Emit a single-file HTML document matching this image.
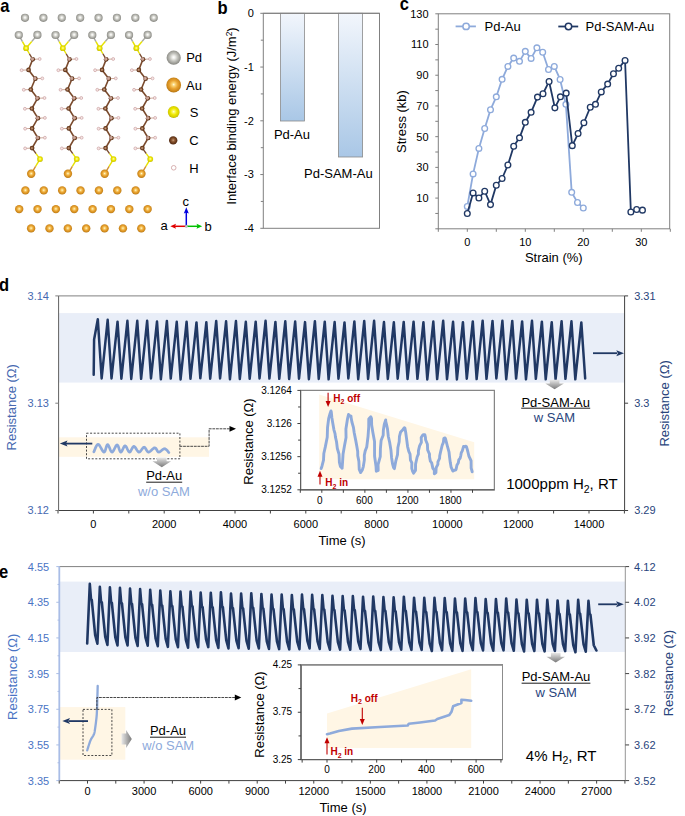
<!DOCTYPE html><html><head><meta charset="utf-8"><style>
html,body{margin:0;padding:0;background:#fff;width:685px;height:816px;overflow:hidden}
svg{display:block;font-family:"Liberation Sans",sans-serif}
</style></head><body>
<svg width="685" height="816" viewBox="0 0 685 816">
<defs>
<radialGradient id="gPd" cx="0.5" cy="0.47" r="0.55"><stop offset="0" stop-color="#ffffff"/><stop offset="0.18" stop-color="#f0f0ec"/><stop offset="0.5" stop-color="#c2c2bc"/><stop offset="0.85" stop-color="#94948e"/><stop offset="1" stop-color="#7a7a75"/></radialGradient>
<radialGradient id="gAu" cx="0.5" cy="0.47" r="0.55"><stop offset="0" stop-color="#fffce8"/><stop offset="0.18" stop-color="#fbd77a"/><stop offset="0.5" stop-color="#eaa432"/><stop offset="0.85" stop-color="#c98418"/><stop offset="1" stop-color="#a86c10"/></radialGradient>
<radialGradient id="gS" cx="0.5" cy="0.47" r="0.55"><stop offset="0" stop-color="#ffffe8"/><stop offset="0.18" stop-color="#fbf870"/><stop offset="0.5" stop-color="#eee800"/><stop offset="0.85" stop-color="#d4cc00"/><stop offset="1" stop-color="#aaa200"/></radialGradient>
<radialGradient id="gC" cx="0.5" cy="0.47" r="0.55"><stop offset="0" stop-color="#d0a888"/><stop offset="0.25" stop-color="#9a6640"/><stop offset="0.6" stop-color="#70401f"/><stop offset="1" stop-color="#4a2410"/></radialGradient>
<linearGradient id="gBar" x1="0" y1="0" x2="0" y2="1"><stop offset="0" stop-color="#f2f6fc"/><stop offset="1" stop-color="#a9c7e6"/></linearGradient>
<linearGradient id="gArD" x1="0" y1="0" x2="0" y2="1"><stop offset="0" stop-color="#e8e8e8"/><stop offset="1" stop-color="#7a7a7a"/></linearGradient>
<linearGradient id="gArR" x1="0" y1="0" x2="1" y2="0"><stop offset="0" stop-color="#e8e8e8"/><stop offset="1" stop-color="#7a7a7a"/></linearGradient>
<marker id="mNavy" viewBox="0 0 10 10" refX="9" refY="5" markerWidth="7" markerHeight="5" markerUnits="userSpaceOnUse" orient="auto"><path d="M0,0 L10,5 L0,10 L2.5,5 z" fill="#203864"/></marker>
<marker id="mBlk" viewBox="0 0 10 10" refX="9" refY="5" markerWidth="6" markerHeight="5" markerUnits="userSpaceOnUse" orient="auto"><path d="M0,0 L10,5 L0,10 z" fill="#000"/></marker>
</defs>

<text transform="translate(0.3,11.7) scale(0.92,1)" font-size="18" font-weight="bold">a</text>
<circle cx="25" cy="17.8" r="4.1" fill="url(#gPd)"/>
<circle cx="43.39" cy="17.8" r="4.1" fill="url(#gPd)"/>
<circle cx="61.78" cy="17.8" r="4.1" fill="url(#gPd)"/>
<circle cx="80.17" cy="17.8" r="4.1" fill="url(#gPd)"/>
<circle cx="98.56" cy="17.8" r="4.1" fill="url(#gPd)"/>
<circle cx="116.95" cy="17.8" r="4.1" fill="url(#gPd)"/>
<circle cx="135.34" cy="17.8" r="4.1" fill="url(#gPd)"/>
<circle cx="153.73" cy="17.8" r="4.1" fill="url(#gPd)"/>
<line x1="18.8" y1="35" x2="22.45" y2="41.6" stroke="#a8a8a2" stroke-width="1.4" />
<line x1="22.45" y1="41.6" x2="26.1" y2="48.2" stroke="#e6e200" stroke-width="1.4" />
<line x1="37.4" y1="34.9" x2="31.75" y2="41.55" stroke="#a8a8a2" stroke-width="1.4" />
<line x1="31.75" y1="41.55" x2="26.1" y2="48.2" stroke="#e6e200" stroke-width="1.4" />
<line x1="26.1" y1="48.2" x2="29.4" y2="53.75" stroke="#e6e200" stroke-width="1.4" />
<line x1="29.4" y1="53.75" x2="32.7" y2="59.3" stroke="#7a4a2c" stroke-width="1.4" />
<line x1="32.7" y1="59.3" x2="28.6" y2="69.9" stroke="#7a4a2c" stroke-width="1.6" />
<line x1="28.6" y1="69.9" x2="35.3" y2="78.7" stroke="#7a4a2c" stroke-width="1.6" />
<line x1="35.3" y1="78.7" x2="30.8" y2="89.5" stroke="#7a4a2c" stroke-width="1.6" />
<line x1="30.8" y1="89.5" x2="37.5" y2="98.3" stroke="#7a4a2c" stroke-width="1.6" />
<line x1="37.5" y1="98.3" x2="31.9" y2="108.5" stroke="#7a4a2c" stroke-width="1.6" />
<line x1="31.9" y1="108.5" x2="37.9" y2="118.2" stroke="#7a4a2c" stroke-width="1.6" />
<line x1="37.9" y1="118.2" x2="32.1" y2="128.4" stroke="#7a4a2c" stroke-width="1.6" />
<line x1="32.1" y1="128.4" x2="37.9" y2="138" stroke="#7a4a2c" stroke-width="1.6" />
<line x1="37.9" y1="138" x2="32.1" y2="148.1" stroke="#7a4a2c" stroke-width="1.6" />
<line x1="32.1" y1="148.1" x2="36.05" y2="153.6" stroke="#7a4a2c" stroke-width="1.4" />
<line x1="36.05" y1="153.6" x2="40" y2="159.1" stroke="#e6e200" stroke-width="1.4" />
<line x1="40" y1="159.1" x2="35.6" y2="166.45" stroke="#e6e200" stroke-width="1.4" />
<line x1="35.6" y1="166.45" x2="31.2" y2="173.8" stroke="#d09030" stroke-width="1.4" />
<line x1="32.7" y1="59.3" x2="39.7" y2="59" stroke="#c8a090" stroke-width="0.9" />
<line x1="28.6" y1="69.9" x2="21.6" y2="70.2" stroke="#c8a090" stroke-width="0.9" />
<line x1="35.3" y1="78.7" x2="42.3" y2="78.4" stroke="#c8a090" stroke-width="0.9" />
<line x1="30.8" y1="89.5" x2="23.8" y2="89.8" stroke="#c8a090" stroke-width="0.9" />
<line x1="37.5" y1="98.3" x2="44.5" y2="98" stroke="#c8a090" stroke-width="0.9" />
<line x1="31.9" y1="108.5" x2="24.9" y2="108.8" stroke="#c8a090" stroke-width="0.9" />
<line x1="37.9" y1="118.2" x2="44.9" y2="117.9" stroke="#c8a090" stroke-width="0.9" />
<line x1="32.1" y1="128.4" x2="25.1" y2="128.7" stroke="#c8a090" stroke-width="0.9" />
<line x1="37.9" y1="138" x2="44.9" y2="137.7" stroke="#c8a090" stroke-width="0.9" />
<line x1="32.1" y1="148.1" x2="25.1" y2="148.4" stroke="#c8a090" stroke-width="0.9" />
<circle cx="18.8" cy="35" r="4.1" fill="url(#gPd)"/>
<circle cx="37.4" cy="34.9" r="4.1" fill="url(#gPd)"/>
<circle cx="26.1" cy="48.2" r="2.9" fill="url(#gS)"/>
<circle cx="40" cy="159.1" r="2.9" fill="url(#gS)"/>
<circle cx="31.2" cy="173.8" r="4.2" fill="url(#gAu)"/>
<circle cx="32.7" cy="59.3" r="2.35" fill="url(#gC)"/>
<circle cx="39.7" cy="59" r="1.45" fill="#f6e6e6" stroke="#c89c9c" stroke-width="0.65"/>
<circle cx="32.2" cy="59" r="1.4" fill="#e8cccc" fill-opacity="0.55" stroke="#d8b4b4" stroke-width="0.5"/>
<circle cx="28.6" cy="69.9" r="2.35" fill="url(#gC)"/>
<circle cx="21.6" cy="70.2" r="1.45" fill="#f6e6e6" stroke="#c89c9c" stroke-width="0.65"/>
<circle cx="28.2" cy="70.1" r="1.1" fill="#e8cccc" fill-opacity="0.3"/>
<circle cx="35.3" cy="78.7" r="2.35" fill="url(#gC)"/>
<circle cx="42.3" cy="78.4" r="1.45" fill="#f6e6e6" stroke="#c89c9c" stroke-width="0.65"/>
<circle cx="34.8" cy="78.4" r="1.4" fill="#e8cccc" fill-opacity="0.55" stroke="#d8b4b4" stroke-width="0.5"/>
<circle cx="30.8" cy="89.5" r="2.35" fill="url(#gC)"/>
<circle cx="23.8" cy="89.8" r="1.45" fill="#f6e6e6" stroke="#c89c9c" stroke-width="0.65"/>
<circle cx="30.4" cy="89.7" r="1.1" fill="#e8cccc" fill-opacity="0.3"/>
<circle cx="37.5" cy="98.3" r="2.35" fill="url(#gC)"/>
<circle cx="44.5" cy="98" r="1.45" fill="#f6e6e6" stroke="#c89c9c" stroke-width="0.65"/>
<circle cx="37" cy="98" r="1.4" fill="#e8cccc" fill-opacity="0.55" stroke="#d8b4b4" stroke-width="0.5"/>
<circle cx="31.9" cy="108.5" r="2.35" fill="url(#gC)"/>
<circle cx="24.9" cy="108.8" r="1.45" fill="#f6e6e6" stroke="#c89c9c" stroke-width="0.65"/>
<circle cx="31.5" cy="108.7" r="1.1" fill="#e8cccc" fill-opacity="0.3"/>
<circle cx="37.9" cy="118.2" r="2.35" fill="url(#gC)"/>
<circle cx="44.9" cy="117.9" r="1.45" fill="#f6e6e6" stroke="#c89c9c" stroke-width="0.65"/>
<circle cx="37.4" cy="117.9" r="1.4" fill="#e8cccc" fill-opacity="0.55" stroke="#d8b4b4" stroke-width="0.5"/>
<circle cx="32.1" cy="128.4" r="2.35" fill="url(#gC)"/>
<circle cx="25.1" cy="128.7" r="1.45" fill="#f6e6e6" stroke="#c89c9c" stroke-width="0.65"/>
<circle cx="31.7" cy="128.6" r="1.1" fill="#e8cccc" fill-opacity="0.3"/>
<circle cx="37.9" cy="138" r="2.35" fill="url(#gC)"/>
<circle cx="44.9" cy="137.7" r="1.45" fill="#f6e6e6" stroke="#c89c9c" stroke-width="0.65"/>
<circle cx="37.4" cy="137.7" r="1.4" fill="#e8cccc" fill-opacity="0.55" stroke="#d8b4b4" stroke-width="0.5"/>
<circle cx="32.1" cy="148.1" r="2.35" fill="url(#gC)"/>
<circle cx="25.1" cy="148.4" r="1.45" fill="#f6e6e6" stroke="#c89c9c" stroke-width="0.65"/>
<circle cx="31.7" cy="148.3" r="1.1" fill="#e8cccc" fill-opacity="0.3"/>
<line x1="55.55" y1="35" x2="59.2" y2="41.6" stroke="#a8a8a2" stroke-width="1.4" />
<line x1="59.2" y1="41.6" x2="62.85" y2="48.2" stroke="#e6e200" stroke-width="1.4" />
<line x1="74.15" y1="34.9" x2="68.5" y2="41.55" stroke="#a8a8a2" stroke-width="1.4" />
<line x1="68.5" y1="41.55" x2="62.85" y2="48.2" stroke="#e6e200" stroke-width="1.4" />
<line x1="62.85" y1="48.2" x2="66.15" y2="53.75" stroke="#e6e200" stroke-width="1.4" />
<line x1="66.15" y1="53.75" x2="69.45" y2="59.3" stroke="#7a4a2c" stroke-width="1.4" />
<line x1="69.45" y1="59.3" x2="65.35" y2="69.9" stroke="#7a4a2c" stroke-width="1.6" />
<line x1="65.35" y1="69.9" x2="72.05" y2="78.7" stroke="#7a4a2c" stroke-width="1.6" />
<line x1="72.05" y1="78.7" x2="67.55" y2="89.5" stroke="#7a4a2c" stroke-width="1.6" />
<line x1="67.55" y1="89.5" x2="74.25" y2="98.3" stroke="#7a4a2c" stroke-width="1.6" />
<line x1="74.25" y1="98.3" x2="68.65" y2="108.5" stroke="#7a4a2c" stroke-width="1.6" />
<line x1="68.65" y1="108.5" x2="74.65" y2="118.2" stroke="#7a4a2c" stroke-width="1.6" />
<line x1="74.65" y1="118.2" x2="68.85" y2="128.4" stroke="#7a4a2c" stroke-width="1.6" />
<line x1="68.85" y1="128.4" x2="74.65" y2="138" stroke="#7a4a2c" stroke-width="1.6" />
<line x1="74.65" y1="138" x2="68.85" y2="148.1" stroke="#7a4a2c" stroke-width="1.6" />
<line x1="68.85" y1="148.1" x2="72.8" y2="153.6" stroke="#7a4a2c" stroke-width="1.4" />
<line x1="72.8" y1="153.6" x2="76.75" y2="159.1" stroke="#e6e200" stroke-width="1.4" />
<line x1="76.75" y1="159.1" x2="72.35" y2="166.45" stroke="#e6e200" stroke-width="1.4" />
<line x1="72.35" y1="166.45" x2="67.95" y2="173.8" stroke="#d09030" stroke-width="1.4" />
<line x1="69.45" y1="59.3" x2="76.45" y2="59" stroke="#c8a090" stroke-width="0.9" />
<line x1="65.35" y1="69.9" x2="58.35" y2="70.2" stroke="#c8a090" stroke-width="0.9" />
<line x1="72.05" y1="78.7" x2="79.05" y2="78.4" stroke="#c8a090" stroke-width="0.9" />
<line x1="67.55" y1="89.5" x2="60.55" y2="89.8" stroke="#c8a090" stroke-width="0.9" />
<line x1="74.25" y1="98.3" x2="81.25" y2="98" stroke="#c8a090" stroke-width="0.9" />
<line x1="68.65" y1="108.5" x2="61.65" y2="108.8" stroke="#c8a090" stroke-width="0.9" />
<line x1="74.65" y1="118.2" x2="81.65" y2="117.9" stroke="#c8a090" stroke-width="0.9" />
<line x1="68.85" y1="128.4" x2="61.85" y2="128.7" stroke="#c8a090" stroke-width="0.9" />
<line x1="74.65" y1="138" x2="81.65" y2="137.7" stroke="#c8a090" stroke-width="0.9" />
<line x1="68.85" y1="148.1" x2="61.85" y2="148.4" stroke="#c8a090" stroke-width="0.9" />
<circle cx="55.55" cy="35" r="4.1" fill="url(#gPd)"/>
<circle cx="74.15" cy="34.9" r="4.1" fill="url(#gPd)"/>
<circle cx="62.85" cy="48.2" r="2.9" fill="url(#gS)"/>
<circle cx="76.75" cy="159.1" r="2.9" fill="url(#gS)"/>
<circle cx="67.95" cy="173.8" r="4.2" fill="url(#gAu)"/>
<circle cx="69.45" cy="59.3" r="2.35" fill="url(#gC)"/>
<circle cx="76.45" cy="59" r="1.45" fill="#f6e6e6" stroke="#c89c9c" stroke-width="0.65"/>
<circle cx="68.95" cy="59" r="1.4" fill="#e8cccc" fill-opacity="0.55" stroke="#d8b4b4" stroke-width="0.5"/>
<circle cx="65.35" cy="69.9" r="2.35" fill="url(#gC)"/>
<circle cx="58.35" cy="70.2" r="1.45" fill="#f6e6e6" stroke="#c89c9c" stroke-width="0.65"/>
<circle cx="64.95" cy="70.1" r="1.1" fill="#e8cccc" fill-opacity="0.3"/>
<circle cx="72.05" cy="78.7" r="2.35" fill="url(#gC)"/>
<circle cx="79.05" cy="78.4" r="1.45" fill="#f6e6e6" stroke="#c89c9c" stroke-width="0.65"/>
<circle cx="71.55" cy="78.4" r="1.4" fill="#e8cccc" fill-opacity="0.55" stroke="#d8b4b4" stroke-width="0.5"/>
<circle cx="67.55" cy="89.5" r="2.35" fill="url(#gC)"/>
<circle cx="60.55" cy="89.8" r="1.45" fill="#f6e6e6" stroke="#c89c9c" stroke-width="0.65"/>
<circle cx="67.15" cy="89.7" r="1.1" fill="#e8cccc" fill-opacity="0.3"/>
<circle cx="74.25" cy="98.3" r="2.35" fill="url(#gC)"/>
<circle cx="81.25" cy="98" r="1.45" fill="#f6e6e6" stroke="#c89c9c" stroke-width="0.65"/>
<circle cx="73.75" cy="98" r="1.4" fill="#e8cccc" fill-opacity="0.55" stroke="#d8b4b4" stroke-width="0.5"/>
<circle cx="68.65" cy="108.5" r="2.35" fill="url(#gC)"/>
<circle cx="61.65" cy="108.8" r="1.45" fill="#f6e6e6" stroke="#c89c9c" stroke-width="0.65"/>
<circle cx="68.25" cy="108.7" r="1.1" fill="#e8cccc" fill-opacity="0.3"/>
<circle cx="74.65" cy="118.2" r="2.35" fill="url(#gC)"/>
<circle cx="81.65" cy="117.9" r="1.45" fill="#f6e6e6" stroke="#c89c9c" stroke-width="0.65"/>
<circle cx="74.15" cy="117.9" r="1.4" fill="#e8cccc" fill-opacity="0.55" stroke="#d8b4b4" stroke-width="0.5"/>
<circle cx="68.85" cy="128.4" r="2.35" fill="url(#gC)"/>
<circle cx="61.85" cy="128.7" r="1.45" fill="#f6e6e6" stroke="#c89c9c" stroke-width="0.65"/>
<circle cx="68.45" cy="128.6" r="1.1" fill="#e8cccc" fill-opacity="0.3"/>
<circle cx="74.65" cy="138" r="2.35" fill="url(#gC)"/>
<circle cx="81.65" cy="137.7" r="1.45" fill="#f6e6e6" stroke="#c89c9c" stroke-width="0.65"/>
<circle cx="74.15" cy="137.7" r="1.4" fill="#e8cccc" fill-opacity="0.55" stroke="#d8b4b4" stroke-width="0.5"/>
<circle cx="68.85" cy="148.1" r="2.35" fill="url(#gC)"/>
<circle cx="61.85" cy="148.4" r="1.45" fill="#f6e6e6" stroke="#c89c9c" stroke-width="0.65"/>
<circle cx="68.45" cy="148.3" r="1.1" fill="#e8cccc" fill-opacity="0.3"/>
<line x1="92.3" y1="35" x2="95.95" y2="41.6" stroke="#a8a8a2" stroke-width="1.4" />
<line x1="95.95" y1="41.6" x2="99.6" y2="48.2" stroke="#e6e200" stroke-width="1.4" />
<line x1="110.9" y1="34.9" x2="105.25" y2="41.55" stroke="#a8a8a2" stroke-width="1.4" />
<line x1="105.25" y1="41.55" x2="99.6" y2="48.2" stroke="#e6e200" stroke-width="1.4" />
<line x1="99.6" y1="48.2" x2="102.9" y2="53.75" stroke="#e6e200" stroke-width="1.4" />
<line x1="102.9" y1="53.75" x2="106.2" y2="59.3" stroke="#7a4a2c" stroke-width="1.4" />
<line x1="106.2" y1="59.3" x2="102.1" y2="69.9" stroke="#7a4a2c" stroke-width="1.6" />
<line x1="102.1" y1="69.9" x2="108.8" y2="78.7" stroke="#7a4a2c" stroke-width="1.6" />
<line x1="108.8" y1="78.7" x2="104.3" y2="89.5" stroke="#7a4a2c" stroke-width="1.6" />
<line x1="104.3" y1="89.5" x2="111" y2="98.3" stroke="#7a4a2c" stroke-width="1.6" />
<line x1="111" y1="98.3" x2="105.4" y2="108.5" stroke="#7a4a2c" stroke-width="1.6" />
<line x1="105.4" y1="108.5" x2="111.4" y2="118.2" stroke="#7a4a2c" stroke-width="1.6" />
<line x1="111.4" y1="118.2" x2="105.6" y2="128.4" stroke="#7a4a2c" stroke-width="1.6" />
<line x1="105.6" y1="128.4" x2="111.4" y2="138" stroke="#7a4a2c" stroke-width="1.6" />
<line x1="111.4" y1="138" x2="105.6" y2="148.1" stroke="#7a4a2c" stroke-width="1.6" />
<line x1="105.6" y1="148.1" x2="109.55" y2="153.6" stroke="#7a4a2c" stroke-width="1.4" />
<line x1="109.55" y1="153.6" x2="113.5" y2="159.1" stroke="#e6e200" stroke-width="1.4" />
<line x1="113.5" y1="159.1" x2="109.1" y2="166.45" stroke="#e6e200" stroke-width="1.4" />
<line x1="109.1" y1="166.45" x2="104.7" y2="173.8" stroke="#d09030" stroke-width="1.4" />
<line x1="106.2" y1="59.3" x2="113.2" y2="59" stroke="#c8a090" stroke-width="0.9" />
<line x1="102.1" y1="69.9" x2="95.1" y2="70.2" stroke="#c8a090" stroke-width="0.9" />
<line x1="108.8" y1="78.7" x2="115.8" y2="78.4" stroke="#c8a090" stroke-width="0.9" />
<line x1="104.3" y1="89.5" x2="97.3" y2="89.8" stroke="#c8a090" stroke-width="0.9" />
<line x1="111" y1="98.3" x2="118" y2="98" stroke="#c8a090" stroke-width="0.9" />
<line x1="105.4" y1="108.5" x2="98.4" y2="108.8" stroke="#c8a090" stroke-width="0.9" />
<line x1="111.4" y1="118.2" x2="118.4" y2="117.9" stroke="#c8a090" stroke-width="0.9" />
<line x1="105.6" y1="128.4" x2="98.6" y2="128.7" stroke="#c8a090" stroke-width="0.9" />
<line x1="111.4" y1="138" x2="118.4" y2="137.7" stroke="#c8a090" stroke-width="0.9" />
<line x1="105.6" y1="148.1" x2="98.6" y2="148.4" stroke="#c8a090" stroke-width="0.9" />
<circle cx="92.3" cy="35" r="4.1" fill="url(#gPd)"/>
<circle cx="110.9" cy="34.9" r="4.1" fill="url(#gPd)"/>
<circle cx="99.6" cy="48.2" r="2.9" fill="url(#gS)"/>
<circle cx="113.5" cy="159.1" r="2.9" fill="url(#gS)"/>
<circle cx="104.7" cy="173.8" r="4.2" fill="url(#gAu)"/>
<circle cx="106.2" cy="59.3" r="2.35" fill="url(#gC)"/>
<circle cx="113.2" cy="59" r="1.45" fill="#f6e6e6" stroke="#c89c9c" stroke-width="0.65"/>
<circle cx="105.7" cy="59" r="1.4" fill="#e8cccc" fill-opacity="0.55" stroke="#d8b4b4" stroke-width="0.5"/>
<circle cx="102.1" cy="69.9" r="2.35" fill="url(#gC)"/>
<circle cx="95.1" cy="70.2" r="1.45" fill="#f6e6e6" stroke="#c89c9c" stroke-width="0.65"/>
<circle cx="101.7" cy="70.1" r="1.1" fill="#e8cccc" fill-opacity="0.3"/>
<circle cx="108.8" cy="78.7" r="2.35" fill="url(#gC)"/>
<circle cx="115.8" cy="78.4" r="1.45" fill="#f6e6e6" stroke="#c89c9c" stroke-width="0.65"/>
<circle cx="108.3" cy="78.4" r="1.4" fill="#e8cccc" fill-opacity="0.55" stroke="#d8b4b4" stroke-width="0.5"/>
<circle cx="104.3" cy="89.5" r="2.35" fill="url(#gC)"/>
<circle cx="97.3" cy="89.8" r="1.45" fill="#f6e6e6" stroke="#c89c9c" stroke-width="0.65"/>
<circle cx="103.9" cy="89.7" r="1.1" fill="#e8cccc" fill-opacity="0.3"/>
<circle cx="111" cy="98.3" r="2.35" fill="url(#gC)"/>
<circle cx="118" cy="98" r="1.45" fill="#f6e6e6" stroke="#c89c9c" stroke-width="0.65"/>
<circle cx="110.5" cy="98" r="1.4" fill="#e8cccc" fill-opacity="0.55" stroke="#d8b4b4" stroke-width="0.5"/>
<circle cx="105.4" cy="108.5" r="2.35" fill="url(#gC)"/>
<circle cx="98.4" cy="108.8" r="1.45" fill="#f6e6e6" stroke="#c89c9c" stroke-width="0.65"/>
<circle cx="105" cy="108.7" r="1.1" fill="#e8cccc" fill-opacity="0.3"/>
<circle cx="111.4" cy="118.2" r="2.35" fill="url(#gC)"/>
<circle cx="118.4" cy="117.9" r="1.45" fill="#f6e6e6" stroke="#c89c9c" stroke-width="0.65"/>
<circle cx="110.9" cy="117.9" r="1.4" fill="#e8cccc" fill-opacity="0.55" stroke="#d8b4b4" stroke-width="0.5"/>
<circle cx="105.6" cy="128.4" r="2.35" fill="url(#gC)"/>
<circle cx="98.6" cy="128.7" r="1.45" fill="#f6e6e6" stroke="#c89c9c" stroke-width="0.65"/>
<circle cx="105.2" cy="128.6" r="1.1" fill="#e8cccc" fill-opacity="0.3"/>
<circle cx="111.4" cy="138" r="2.35" fill="url(#gC)"/>
<circle cx="118.4" cy="137.7" r="1.45" fill="#f6e6e6" stroke="#c89c9c" stroke-width="0.65"/>
<circle cx="110.9" cy="137.7" r="1.4" fill="#e8cccc" fill-opacity="0.55" stroke="#d8b4b4" stroke-width="0.5"/>
<circle cx="105.6" cy="148.1" r="2.35" fill="url(#gC)"/>
<circle cx="98.6" cy="148.4" r="1.45" fill="#f6e6e6" stroke="#c89c9c" stroke-width="0.65"/>
<circle cx="105.2" cy="148.3" r="1.1" fill="#e8cccc" fill-opacity="0.3"/>
<line x1="129.05" y1="35" x2="132.7" y2="41.6" stroke="#a8a8a2" stroke-width="1.4" />
<line x1="132.7" y1="41.6" x2="136.35" y2="48.2" stroke="#e6e200" stroke-width="1.4" />
<line x1="147.65" y1="34.9" x2="142" y2="41.55" stroke="#a8a8a2" stroke-width="1.4" />
<line x1="142" y1="41.55" x2="136.35" y2="48.2" stroke="#e6e200" stroke-width="1.4" />
<line x1="136.35" y1="48.2" x2="139.65" y2="53.75" stroke="#e6e200" stroke-width="1.4" />
<line x1="139.65" y1="53.75" x2="142.95" y2="59.3" stroke="#7a4a2c" stroke-width="1.4" />
<line x1="142.95" y1="59.3" x2="138.85" y2="69.9" stroke="#7a4a2c" stroke-width="1.6" />
<line x1="138.85" y1="69.9" x2="145.55" y2="78.7" stroke="#7a4a2c" stroke-width="1.6" />
<line x1="145.55" y1="78.7" x2="141.05" y2="89.5" stroke="#7a4a2c" stroke-width="1.6" />
<line x1="141.05" y1="89.5" x2="147.75" y2="98.3" stroke="#7a4a2c" stroke-width="1.6" />
<line x1="147.75" y1="98.3" x2="142.15" y2="108.5" stroke="#7a4a2c" stroke-width="1.6" />
<line x1="142.15" y1="108.5" x2="148.15" y2="118.2" stroke="#7a4a2c" stroke-width="1.6" />
<line x1="148.15" y1="118.2" x2="142.35" y2="128.4" stroke="#7a4a2c" stroke-width="1.6" />
<line x1="142.35" y1="128.4" x2="148.15" y2="138" stroke="#7a4a2c" stroke-width="1.6" />
<line x1="148.15" y1="138" x2="142.35" y2="148.1" stroke="#7a4a2c" stroke-width="1.6" />
<line x1="142.35" y1="148.1" x2="146.3" y2="153.6" stroke="#7a4a2c" stroke-width="1.4" />
<line x1="146.3" y1="153.6" x2="150.25" y2="159.1" stroke="#e6e200" stroke-width="1.4" />
<line x1="150.25" y1="159.1" x2="145.85" y2="166.45" stroke="#e6e200" stroke-width="1.4" />
<line x1="145.85" y1="166.45" x2="141.45" y2="173.8" stroke="#d09030" stroke-width="1.4" />
<line x1="142.95" y1="59.3" x2="149.95" y2="59" stroke="#c8a090" stroke-width="0.9" />
<line x1="138.85" y1="69.9" x2="131.85" y2="70.2" stroke="#c8a090" stroke-width="0.9" />
<line x1="145.55" y1="78.7" x2="152.55" y2="78.4" stroke="#c8a090" stroke-width="0.9" />
<line x1="141.05" y1="89.5" x2="134.05" y2="89.8" stroke="#c8a090" stroke-width="0.9" />
<line x1="147.75" y1="98.3" x2="154.75" y2="98" stroke="#c8a090" stroke-width="0.9" />
<line x1="142.15" y1="108.5" x2="135.15" y2="108.8" stroke="#c8a090" stroke-width="0.9" />
<line x1="148.15" y1="118.2" x2="155.15" y2="117.9" stroke="#c8a090" stroke-width="0.9" />
<line x1="142.35" y1="128.4" x2="135.35" y2="128.7" stroke="#c8a090" stroke-width="0.9" />
<line x1="148.15" y1="138" x2="155.15" y2="137.7" stroke="#c8a090" stroke-width="0.9" />
<line x1="142.35" y1="148.1" x2="135.35" y2="148.4" stroke="#c8a090" stroke-width="0.9" />
<circle cx="129.05" cy="35" r="4.1" fill="url(#gPd)"/>
<circle cx="147.65" cy="34.9" r="4.1" fill="url(#gPd)"/>
<circle cx="136.35" cy="48.2" r="2.9" fill="url(#gS)"/>
<circle cx="150.25" cy="159.1" r="2.9" fill="url(#gS)"/>
<circle cx="141.45" cy="173.8" r="4.2" fill="url(#gAu)"/>
<circle cx="142.95" cy="59.3" r="2.35" fill="url(#gC)"/>
<circle cx="149.95" cy="59" r="1.45" fill="#f6e6e6" stroke="#c89c9c" stroke-width="0.65"/>
<circle cx="142.45" cy="59" r="1.4" fill="#e8cccc" fill-opacity="0.55" stroke="#d8b4b4" stroke-width="0.5"/>
<circle cx="138.85" cy="69.9" r="2.35" fill="url(#gC)"/>
<circle cx="131.85" cy="70.2" r="1.45" fill="#f6e6e6" stroke="#c89c9c" stroke-width="0.65"/>
<circle cx="138.45" cy="70.1" r="1.1" fill="#e8cccc" fill-opacity="0.3"/>
<circle cx="145.55" cy="78.7" r="2.35" fill="url(#gC)"/>
<circle cx="152.55" cy="78.4" r="1.45" fill="#f6e6e6" stroke="#c89c9c" stroke-width="0.65"/>
<circle cx="145.05" cy="78.4" r="1.4" fill="#e8cccc" fill-opacity="0.55" stroke="#d8b4b4" stroke-width="0.5"/>
<circle cx="141.05" cy="89.5" r="2.35" fill="url(#gC)"/>
<circle cx="134.05" cy="89.8" r="1.45" fill="#f6e6e6" stroke="#c89c9c" stroke-width="0.65"/>
<circle cx="140.65" cy="89.7" r="1.1" fill="#e8cccc" fill-opacity="0.3"/>
<circle cx="147.75" cy="98.3" r="2.35" fill="url(#gC)"/>
<circle cx="154.75" cy="98" r="1.45" fill="#f6e6e6" stroke="#c89c9c" stroke-width="0.65"/>
<circle cx="147.25" cy="98" r="1.4" fill="#e8cccc" fill-opacity="0.55" stroke="#d8b4b4" stroke-width="0.5"/>
<circle cx="142.15" cy="108.5" r="2.35" fill="url(#gC)"/>
<circle cx="135.15" cy="108.8" r="1.45" fill="#f6e6e6" stroke="#c89c9c" stroke-width="0.65"/>
<circle cx="141.75" cy="108.7" r="1.1" fill="#e8cccc" fill-opacity="0.3"/>
<circle cx="148.15" cy="118.2" r="2.35" fill="url(#gC)"/>
<circle cx="155.15" cy="117.9" r="1.45" fill="#f6e6e6" stroke="#c89c9c" stroke-width="0.65"/>
<circle cx="147.65" cy="117.9" r="1.4" fill="#e8cccc" fill-opacity="0.55" stroke="#d8b4b4" stroke-width="0.5"/>
<circle cx="142.35" cy="128.4" r="2.35" fill="url(#gC)"/>
<circle cx="135.35" cy="128.7" r="1.45" fill="#f6e6e6" stroke="#c89c9c" stroke-width="0.65"/>
<circle cx="141.95" cy="128.6" r="1.1" fill="#e8cccc" fill-opacity="0.3"/>
<circle cx="148.15" cy="138" r="2.35" fill="url(#gC)"/>
<circle cx="155.15" cy="137.7" r="1.45" fill="#f6e6e6" stroke="#c89c9c" stroke-width="0.65"/>
<circle cx="147.65" cy="137.7" r="1.4" fill="#e8cccc" fill-opacity="0.55" stroke="#d8b4b4" stroke-width="0.5"/>
<circle cx="142.35" cy="148.1" r="2.35" fill="url(#gC)"/>
<circle cx="135.35" cy="148.4" r="1.45" fill="#f6e6e6" stroke="#c89c9c" stroke-width="0.65"/>
<circle cx="141.95" cy="148.3" r="1.1" fill="#e8cccc" fill-opacity="0.3"/>
<circle cx="25.4" cy="190.4" r="4.2" fill="url(#gAu)"/>
<circle cx="43.78" cy="190.4" r="4.2" fill="url(#gAu)"/>
<circle cx="62.16" cy="190.4" r="4.2" fill="url(#gAu)"/>
<circle cx="80.54" cy="190.4" r="4.2" fill="url(#gAu)"/>
<circle cx="98.92" cy="190.4" r="4.2" fill="url(#gAu)"/>
<circle cx="117.3" cy="190.4" r="4.2" fill="url(#gAu)"/>
<circle cx="135.68" cy="190.4" r="4.2" fill="url(#gAu)"/>
<circle cx="19.2" cy="209.1" r="4.2" fill="url(#gAu)"/>
<circle cx="37.55" cy="209.1" r="4.2" fill="url(#gAu)"/>
<circle cx="55.9" cy="209.1" r="4.2" fill="url(#gAu)"/>
<circle cx="74.25" cy="209.1" r="4.2" fill="url(#gAu)"/>
<circle cx="92.6" cy="209.1" r="4.2" fill="url(#gAu)"/>
<circle cx="110.95" cy="209.1" r="4.2" fill="url(#gAu)"/>
<circle cx="129.3" cy="209.1" r="4.2" fill="url(#gAu)"/>
<circle cx="147.65" cy="209.1" r="4.2" fill="url(#gAu)"/>
<circle cx="31.1" cy="228.4" r="4.2" fill="url(#gAu)"/>
<circle cx="49.47" cy="228.4" r="4.2" fill="url(#gAu)"/>
<circle cx="67.84" cy="228.4" r="4.2" fill="url(#gAu)"/>
<circle cx="86.21" cy="228.4" r="4.2" fill="url(#gAu)"/>
<circle cx="104.58" cy="228.4" r="4.2" fill="url(#gAu)"/>
<circle cx="122.95" cy="228.4" r="4.2" fill="url(#gAu)"/>
<circle cx="141.32" cy="228.4" r="4.2" fill="url(#gAu)"/>
<circle cx="173.7" cy="57.7" r="7.1" fill="url(#gPd)"/>
<circle cx="173.7" cy="85" r="7.4" fill="url(#gAu)"/>
<circle cx="173.7" cy="112" r="5.9" fill="url(#gS)"/>
<circle cx="173.2" cy="140.4" r="4.2" fill="url(#gC)"/>
<circle cx="173.7" cy="167.8" r="2.3" fill="#fff" stroke="#d4a8a8" stroke-width="0.9"/>
<text x="186.2" y="62.4" font-size="13" text-anchor="start" fill="#000" font-weight="normal" >Pd</text>
<text x="186" y="89.7" font-size="13" text-anchor="start" fill="#000" font-weight="normal" >Au</text>
<text x="194" y="116.7" font-size="13" text-anchor="middle" fill="#000" font-weight="normal" >S</text>
<text x="194" y="145.1" font-size="13" text-anchor="middle" fill="#000" font-weight="normal" >C</text>
<text x="194" y="172.5" font-size="13" text-anchor="middle" fill="#000" font-weight="normal" >H</text>
<line x1="186.3" y1="226.3" x2="174" y2="226.3" stroke="#e00000" stroke-width="1.5" />
<path d="M170.3,226.3 L176,223.8 L175,226.3 L176,228.8 z" fill="#e00000"/>
<line x1="186.3" y1="226.3" x2="198" y2="226.3" stroke="#00c000" stroke-width="1.5" />
<path d="M202.2,226.3 L196.5,223.8 L197.5,226.3 L196.5,228.8 z" fill="#00c000"/>
<line x1="186.3" y1="226.3" x2="186.3" y2="211" stroke="#0000e0" stroke-width="1.5" />
<path d="M186.3,207.3 L183.8,213.5 L186.3,212.5 L188.8,213.5 z" fill="#0000e0"/>
<circle cx="186.3" cy="226.3" r="1.2" fill="#c8c8c8" stroke="#999" stroke-width="0.4"/>
<text x="160.5" y="230.4" font-size="13" text-anchor="start" fill="#000" font-weight="normal" >a</text>
<text x="204.4" y="230.6" font-size="13" text-anchor="start" fill="#000" font-weight="normal" >b</text>
<text x="182.6" y="205.8" font-size="13" text-anchor="start" fill="#000" font-weight="normal" >c</text>
<text transform="translate(217.5,14) scale(0.92,1)" font-size="18" font-weight="bold">b</text>
<rect x="263.3" y="13.3" width="116.2" height="215" fill="none" stroke="#808080" stroke-width="1"/>
<line x1="260.3" y1="13.3" x2="263.3" y2="13.3" stroke="#808080" stroke-width="1" />
<text x="253.8" y="17.2" font-size="11" text-anchor="end" fill="#000" font-weight="normal" >0</text>
<line x1="260.8" y1="40.17" x2="263.3" y2="40.17" stroke="#808080" stroke-width="1" />
<line x1="260.3" y1="67.05" x2="263.3" y2="67.05" stroke="#808080" stroke-width="1" />
<text x="253.8" y="70.95" font-size="11" text-anchor="end" fill="#000" font-weight="normal" >-1</text>
<line x1="260.8" y1="93.92" x2="263.3" y2="93.92" stroke="#808080" stroke-width="1" />
<line x1="260.3" y1="120.8" x2="263.3" y2="120.8" stroke="#808080" stroke-width="1" />
<text x="253.8" y="124.7" font-size="11" text-anchor="end" fill="#000" font-weight="normal" >-2</text>
<line x1="260.8" y1="147.68" x2="263.3" y2="147.68" stroke="#808080" stroke-width="1" />
<line x1="260.3" y1="174.55" x2="263.3" y2="174.55" stroke="#808080" stroke-width="1" />
<text x="253.8" y="178.45" font-size="11" text-anchor="end" fill="#000" font-weight="normal" >-3</text>
<line x1="260.8" y1="201.43" x2="263.3" y2="201.43" stroke="#808080" stroke-width="1" />
<line x1="260.3" y1="228.3" x2="263.3" y2="228.3" stroke="#808080" stroke-width="1" />
<text x="253.8" y="232.2" font-size="11" text-anchor="end" fill="#000" font-weight="normal" >-4</text>
<rect x="280.5" y="13.3" width="24" height="107.7" fill="url(#gBar)" stroke="#8a8a8a" stroke-width="0.8"/>
<rect x="338.4" y="13.3" width="24.2" height="143.7" fill="url(#gBar)" stroke="#8a8a8a" stroke-width="0.8"/>
<line x1="263.3" y1="13.3" x2="379.5" y2="13.3" stroke="#808080" stroke-width="1" />
<text x="273.9" y="139.3" font-size="13" text-anchor="start" fill="#000" font-weight="normal" >Pd-Au</text>
<text x="304" y="178.3" font-size="13" text-anchor="start" fill="#000" font-weight="normal" >Pd-SAM-Au</text>
<text transform="translate(236.3,116) rotate(-90)" font-size="13" text-anchor="middle" fill="#000">Interface binding energy (J/m<tspan font-size="8.5" dy="-4.5">2</tspan><tspan dy="4.5">)</tspan></text>
<text transform="translate(399.8,9.8) scale(0.92,1)" font-size="18" font-weight="bold">c</text>
<rect x="438.3" y="13.8" width="231.4" height="215" fill="none" stroke="#808080" stroke-width="1"/>
<line x1="435.3" y1="228.8" x2="438.3" y2="228.8" stroke="#808080" stroke-width="1" />
<line x1="435.3" y1="213.44" x2="438.3" y2="213.44" stroke="#808080" stroke-width="1" />
<line x1="435.3" y1="198.08" x2="438.3" y2="198.08" stroke="#808080" stroke-width="1" />
<text x="428.6" y="201.98" font-size="11" text-anchor="end" fill="#000" font-weight="normal" >10</text>
<line x1="435.3" y1="182.73" x2="438.3" y2="182.73" stroke="#808080" stroke-width="1" />
<line x1="435.3" y1="167.37" x2="438.3" y2="167.37" stroke="#808080" stroke-width="1" />
<text x="428.6" y="171.27" font-size="11" text-anchor="end" fill="#000" font-weight="normal" >30</text>
<line x1="435.3" y1="152.01" x2="438.3" y2="152.01" stroke="#808080" stroke-width="1" />
<line x1="435.3" y1="136.66" x2="438.3" y2="136.66" stroke="#808080" stroke-width="1" />
<text x="428.6" y="140.56" font-size="11" text-anchor="end" fill="#000" font-weight="normal" >50</text>
<line x1="435.3" y1="121.3" x2="438.3" y2="121.3" stroke="#808080" stroke-width="1" />
<line x1="435.3" y1="105.94" x2="438.3" y2="105.94" stroke="#808080" stroke-width="1" />
<text x="428.6" y="109.84" font-size="11" text-anchor="end" fill="#000" font-weight="normal" >70</text>
<line x1="435.3" y1="90.58" x2="438.3" y2="90.58" stroke="#808080" stroke-width="1" />
<line x1="435.3" y1="75.23" x2="438.3" y2="75.23" stroke="#808080" stroke-width="1" />
<text x="428.6" y="79.13" font-size="11" text-anchor="end" fill="#000" font-weight="normal" >90</text>
<line x1="435.3" y1="59.87" x2="438.3" y2="59.87" stroke="#808080" stroke-width="1" />
<line x1="435.3" y1="44.51" x2="438.3" y2="44.51" stroke="#808080" stroke-width="1" />
<text x="428.6" y="48.41" font-size="11" text-anchor="end" fill="#000" font-weight="normal" >110</text>
<line x1="435.3" y1="29.16" x2="438.3" y2="29.16" stroke="#808080" stroke-width="1" />
<line x1="435.3" y1="13.8" x2="438.3" y2="13.8" stroke="#808080" stroke-width="1" />
<text x="428.6" y="17.7" font-size="11" text-anchor="end" fill="#000" font-weight="normal" >130</text>
<line x1="438.3" y1="228.8" x2="438.3" y2="231.8" stroke="#808080" stroke-width="1" />
<line x1="467.3" y1="228.8" x2="467.3" y2="231.8" stroke="#808080" stroke-width="1" />
<text x="467.3" y="246" font-size="11" text-anchor="middle" fill="#000" font-weight="normal" >0</text>
<line x1="496.3" y1="228.8" x2="496.3" y2="231.8" stroke="#808080" stroke-width="1" />
<line x1="525.3" y1="228.8" x2="525.3" y2="231.8" stroke="#808080" stroke-width="1" />
<text x="525.3" y="246" font-size="11" text-anchor="middle" fill="#000" font-weight="normal" >10</text>
<line x1="554.3" y1="228.8" x2="554.3" y2="231.8" stroke="#808080" stroke-width="1" />
<line x1="583.3" y1="228.8" x2="583.3" y2="231.8" stroke="#808080" stroke-width="1" />
<text x="583.3" y="246" font-size="11" text-anchor="middle" fill="#000" font-weight="normal" >20</text>
<line x1="612.3" y1="228.8" x2="612.3" y2="231.8" stroke="#808080" stroke-width="1" />
<line x1="641.3" y1="228.8" x2="641.3" y2="231.8" stroke="#808080" stroke-width="1" />
<text x="641.3" y="246" font-size="11" text-anchor="middle" fill="#000" font-weight="normal" >30</text>
<line x1="670.3" y1="228.8" x2="670.3" y2="231.8" stroke="#808080" stroke-width="1" />
<text x="553.8" y="261.6" font-size="13" text-anchor="middle" fill="#000" font-weight="normal" >Strain (%)</text>
<text transform="translate(406,121.5) rotate(-90)" font-size="13" text-anchor="middle" fill="#000">Stress (kb)</text>
<polyline points="467.3,206.46 473.1,173.91 478.9,148.41 484.7,128.45 490.5,109.71 496.3,96.81 502.1,79.31 507.9,66.41 513.7,58.11 519.5,61.34 525.3,51.36 531.1,58.42 536.9,47.82 542.7,52.28 548.5,69.48 554.3,66.41 560.1,79.46 565.9,104.34 571.7,192.33 577.5,202.47 583.3,208" fill="none" stroke="#8eaadb" stroke-width="1.8" stroke-linejoin="round" stroke-linecap="round" />
<circle cx="467.3" cy="206.46" r="2.85" fill="#fff" stroke="#8eaadb" stroke-width="1.35"/>
<circle cx="473.1" cy="173.91" r="2.85" fill="#fff" stroke="#8eaadb" stroke-width="1.35"/>
<circle cx="478.9" cy="148.41" r="2.85" fill="#fff" stroke="#8eaadb" stroke-width="1.35"/>
<circle cx="484.7" cy="128.45" r="2.85" fill="#fff" stroke="#8eaadb" stroke-width="1.35"/>
<circle cx="490.5" cy="109.71" r="2.85" fill="#fff" stroke="#8eaadb" stroke-width="1.35"/>
<circle cx="496.3" cy="96.81" r="2.85" fill="#fff" stroke="#8eaadb" stroke-width="1.35"/>
<circle cx="502.1" cy="79.31" r="2.85" fill="#fff" stroke="#8eaadb" stroke-width="1.35"/>
<circle cx="507.9" cy="66.41" r="2.85" fill="#fff" stroke="#8eaadb" stroke-width="1.35"/>
<circle cx="513.7" cy="58.11" r="2.85" fill="#fff" stroke="#8eaadb" stroke-width="1.35"/>
<circle cx="519.5" cy="61.34" r="2.85" fill="#fff" stroke="#8eaadb" stroke-width="1.35"/>
<circle cx="525.3" cy="51.36" r="2.85" fill="#fff" stroke="#8eaadb" stroke-width="1.35"/>
<circle cx="531.1" cy="58.42" r="2.85" fill="#fff" stroke="#8eaadb" stroke-width="1.35"/>
<circle cx="536.9" cy="47.82" r="2.85" fill="#fff" stroke="#8eaadb" stroke-width="1.35"/>
<circle cx="542.7" cy="52.28" r="2.85" fill="#fff" stroke="#8eaadb" stroke-width="1.35"/>
<circle cx="548.5" cy="69.48" r="2.85" fill="#fff" stroke="#8eaadb" stroke-width="1.35"/>
<circle cx="554.3" cy="66.41" r="2.85" fill="#fff" stroke="#8eaadb" stroke-width="1.35"/>
<circle cx="560.1" cy="79.46" r="2.85" fill="#fff" stroke="#8eaadb" stroke-width="1.35"/>
<circle cx="565.9" cy="104.34" r="2.85" fill="#fff" stroke="#8eaadb" stroke-width="1.35"/>
<circle cx="571.7" cy="192.33" r="2.85" fill="#fff" stroke="#8eaadb" stroke-width="1.35"/>
<circle cx="577.5" cy="202.47" r="2.85" fill="#fff" stroke="#8eaadb" stroke-width="1.35"/>
<circle cx="583.3" cy="208" r="2.85" fill="#fff" stroke="#8eaadb" stroke-width="1.35"/>
<polyline points="467.3,213.53 473.1,192.95 478.9,198.02 484.7,191.26 490.5,204.62 496.3,185.27 502.1,178.51 507.9,165 513.7,146.26 519.5,137.82 525.3,122.31 531.1,112.32 537.48,97.12 542.99,93.74 549.08,81.46 554.88,107.87 560.39,96.81 566.19,93.13 572.28,145.65 578.08,133.52 583.88,122.77 590.26,107.26 595.48,104.34 601.28,91.9 607.66,84.07 613.46,73.78 618.68,68.25 625.06,60.42 630.86,211.99 636.66,209.53 642.46,210.15" fill="none" stroke="#203864" stroke-width="1.8" stroke-linejoin="round" stroke-linecap="round" />
<circle cx="467.3" cy="213.53" r="2.85" fill="#fff" stroke="#203864" stroke-width="1.35"/>
<circle cx="473.1" cy="192.95" r="2.85" fill="#fff" stroke="#203864" stroke-width="1.35"/>
<circle cx="478.9" cy="198.02" r="2.85" fill="#fff" stroke="#203864" stroke-width="1.35"/>
<circle cx="484.7" cy="191.26" r="2.85" fill="#fff" stroke="#203864" stroke-width="1.35"/>
<circle cx="490.5" cy="204.62" r="2.85" fill="#fff" stroke="#203864" stroke-width="1.35"/>
<circle cx="496.3" cy="185.27" r="2.85" fill="#fff" stroke="#203864" stroke-width="1.35"/>
<circle cx="502.1" cy="178.51" r="2.85" fill="#fff" stroke="#203864" stroke-width="1.35"/>
<circle cx="507.9" cy="165" r="2.85" fill="#fff" stroke="#203864" stroke-width="1.35"/>
<circle cx="513.7" cy="146.26" r="2.85" fill="#fff" stroke="#203864" stroke-width="1.35"/>
<circle cx="519.5" cy="137.82" r="2.85" fill="#fff" stroke="#203864" stroke-width="1.35"/>
<circle cx="525.3" cy="122.31" r="2.85" fill="#fff" stroke="#203864" stroke-width="1.35"/>
<circle cx="531.1" cy="112.32" r="2.85" fill="#fff" stroke="#203864" stroke-width="1.35"/>
<circle cx="537.48" cy="97.12" r="2.85" fill="#fff" stroke="#203864" stroke-width="1.35"/>
<circle cx="542.99" cy="93.74" r="2.85" fill="#fff" stroke="#203864" stroke-width="1.35"/>
<circle cx="549.08" cy="81.46" r="2.85" fill="#fff" stroke="#203864" stroke-width="1.35"/>
<circle cx="554.88" cy="107.87" r="2.85" fill="#fff" stroke="#203864" stroke-width="1.35"/>
<circle cx="560.39" cy="96.81" r="2.85" fill="#fff" stroke="#203864" stroke-width="1.35"/>
<circle cx="566.19" cy="93.13" r="2.85" fill="#fff" stroke="#203864" stroke-width="1.35"/>
<circle cx="572.28" cy="145.65" r="2.85" fill="#fff" stroke="#203864" stroke-width="1.35"/>
<circle cx="578.08" cy="133.52" r="2.85" fill="#fff" stroke="#203864" stroke-width="1.35"/>
<circle cx="583.88" cy="122.77" r="2.85" fill="#fff" stroke="#203864" stroke-width="1.35"/>
<circle cx="590.26" cy="107.26" r="2.85" fill="#fff" stroke="#203864" stroke-width="1.35"/>
<circle cx="595.48" cy="104.34" r="2.85" fill="#fff" stroke="#203864" stroke-width="1.35"/>
<circle cx="601.28" cy="91.9" r="2.85" fill="#fff" stroke="#203864" stroke-width="1.35"/>
<circle cx="607.66" cy="84.07" r="2.85" fill="#fff" stroke="#203864" stroke-width="1.35"/>
<circle cx="613.46" cy="73.78" r="2.85" fill="#fff" stroke="#203864" stroke-width="1.35"/>
<circle cx="618.68" cy="68.25" r="2.85" fill="#fff" stroke="#203864" stroke-width="1.35"/>
<circle cx="625.06" cy="60.42" r="2.85" fill="#fff" stroke="#203864" stroke-width="1.35"/>
<circle cx="630.86" cy="211.99" r="2.85" fill="#fff" stroke="#203864" stroke-width="1.35"/>
<circle cx="636.66" cy="209.53" r="2.85" fill="#fff" stroke="#203864" stroke-width="1.35"/>
<circle cx="642.46" cy="210.15" r="2.85" fill="#fff" stroke="#203864" stroke-width="1.35"/>
<line x1="455.6" y1="26.4" x2="475.9" y2="26.4" stroke="#8eaadb" stroke-width="1.8" />
<circle cx="466.1" cy="26.4" r="3.2" fill="#fff" stroke="#8eaadb" stroke-width="1.5"/>
<text x="484.6" y="31" font-size="13" text-anchor="start" fill="#000" font-weight="normal" >Pd-Au</text>
<line x1="558.3" y1="26.5" x2="578.2" y2="26.5" stroke="#203864" stroke-width="1.8" />
<circle cx="568.5" cy="26.5" r="3.2" fill="#fff" stroke="#203864" stroke-width="1.5"/>
<text x="585.6" y="31.1" font-size="13" text-anchor="start" fill="#000" font-weight="normal" >Pd-SAM-Au</text>
<text transform="translate(-0.9,291) scale(0.92,1)" font-size="18" font-weight="bold">d</text>
<rect x="58.6" y="313.1" width="566" height="69.5" fill="#e9eef8"/>
<rect x="58.6" y="437.3" width="150.4" height="19.5" fill="#fff6e5"/>
<line x1="58.6" y1="295.9" x2="624.6" y2="295.9" stroke="#808080" stroke-width="1" />
<line x1="58.6" y1="295.9" x2="58.6" y2="510.5" stroke="#606060" stroke-width="1" />
<line x1="624.6" y1="295.9" x2="624.6" y2="510.5" stroke="#404040" stroke-width="1" />
<line x1="58.6" y1="510.5" x2="624.6" y2="510.5" stroke="#404040" stroke-width="1" />
<line x1="55.3" y1="295.9" x2="58.6" y2="295.9" stroke="#808080" stroke-width="1" />
<text x="49" y="299.8" font-size="11" text-anchor="end" fill="#4668b0" font-weight="normal" >3.14</text>
<line x1="55.3" y1="403.2" x2="58.6" y2="403.2" stroke="#808080" stroke-width="1" />
<text x="49" y="407.1" font-size="11" text-anchor="end" fill="#4668b0" font-weight="normal" >3.13</text>
<line x1="55.3" y1="510.5" x2="58.6" y2="510.5" stroke="#808080" stroke-width="1" />
<text x="49" y="514.4" font-size="11" text-anchor="end" fill="#4668b0" font-weight="normal" >3.12</text>
<line x1="624.6" y1="295.9" x2="628.1" y2="295.9" stroke="#404040" stroke-width="1" />
<text x="634.2" y="299.8" font-size="11" text-anchor="start" fill="#28447c" font-weight="normal" >3.31</text>
<line x1="624.6" y1="403.2" x2="628.1" y2="403.2" stroke="#404040" stroke-width="1" />
<text x="634.2" y="407.1" font-size="11" text-anchor="start" fill="#28447c" font-weight="normal" >3.3</text>
<line x1="624.6" y1="510.5" x2="628.1" y2="510.5" stroke="#404040" stroke-width="1" />
<text x="634.2" y="514.4" font-size="11" text-anchor="start" fill="#28447c" font-weight="normal" >3.29</text>
<line x1="58" y1="510.5" x2="58" y2="513.5" stroke="#404040" stroke-width="1" />
<line x1="93.4" y1="510.5" x2="93.4" y2="513.5" stroke="#404040" stroke-width="1" />
<text x="93.4" y="527.5" font-size="11" text-anchor="middle" fill="#000" font-weight="normal" >0</text>
<line x1="128.8" y1="510.5" x2="128.8" y2="513.5" stroke="#404040" stroke-width="1" />
<line x1="164.2" y1="510.5" x2="164.2" y2="513.5" stroke="#404040" stroke-width="1" />
<text x="164.2" y="527.5" font-size="11" text-anchor="middle" fill="#000" font-weight="normal" >2000</text>
<line x1="199.6" y1="510.5" x2="199.6" y2="513.5" stroke="#404040" stroke-width="1" />
<line x1="235" y1="510.5" x2="235" y2="513.5" stroke="#404040" stroke-width="1" />
<text x="235" y="527.5" font-size="11" text-anchor="middle" fill="#000" font-weight="normal" >4000</text>
<line x1="270.4" y1="510.5" x2="270.4" y2="513.5" stroke="#404040" stroke-width="1" />
<line x1="305.8" y1="510.5" x2="305.8" y2="513.5" stroke="#404040" stroke-width="1" />
<text x="305.8" y="527.5" font-size="11" text-anchor="middle" fill="#000" font-weight="normal" >6000</text>
<line x1="341.2" y1="510.5" x2="341.2" y2="513.5" stroke="#404040" stroke-width="1" />
<line x1="376.6" y1="510.5" x2="376.6" y2="513.5" stroke="#404040" stroke-width="1" />
<text x="376.6" y="527.5" font-size="11" text-anchor="middle" fill="#000" font-weight="normal" >8000</text>
<line x1="412" y1="510.5" x2="412" y2="513.5" stroke="#404040" stroke-width="1" />
<line x1="447.4" y1="510.5" x2="447.4" y2="513.5" stroke="#404040" stroke-width="1" />
<text x="447.4" y="527.5" font-size="11" text-anchor="middle" fill="#000" font-weight="normal" >10000</text>
<line x1="482.8" y1="510.5" x2="482.8" y2="513.5" stroke="#404040" stroke-width="1" />
<line x1="518.2" y1="510.5" x2="518.2" y2="513.5" stroke="#404040" stroke-width="1" />
<text x="518.2" y="527.5" font-size="11" text-anchor="middle" fill="#000" font-weight="normal" >12000</text>
<line x1="553.6" y1="510.5" x2="553.6" y2="513.5" stroke="#404040" stroke-width="1" />
<line x1="589" y1="510.5" x2="589" y2="513.5" stroke="#404040" stroke-width="1" />
<text x="589" y="527.5" font-size="11" text-anchor="middle" fill="#000" font-weight="normal" >14000</text>
<line x1="624.4" y1="510.5" x2="624.4" y2="513.5" stroke="#404040" stroke-width="1" />
<text x="342" y="544.7" font-size="13" text-anchor="middle" fill="#000" font-weight="normal" >Time (s)</text>
<text transform="translate(15.8,407.3) rotate(-90)" font-size="13" text-anchor="middle" fill="#4668b0">Resistance (Ω)</text>
<text transform="translate(669.3,403.4) rotate(-90)" font-size="13" text-anchor="middle" fill="#28447c">Resistance (Ω)</text>
<polyline points="93.7,374.7 94.1,339.4 97.8,319.18 101.65,378.48 107.67,319.77 111.52,378.39 117.54,321.66 121.39,378.74 127.4,320.8 131.25,378.91 137.27,320.77 141.12,378.82 147.14,320.83 150.99,378.41 157.01,321.46 160.86,379.29 166.88,320.92 170.73,378.57 176.74,321.83 180.59,379.44 186.61,321.74 190.46,378.78 196.48,322.46 200.33,378.36 206.35,322.25 210.2,378.65 216.22,320.96 220.07,378.44 226.08,321.26 229.93,379.28 235.95,321.03 239.8,379 245.82,321.85 249.67,378.75 255.69,321.69 259.54,378.38 265.56,320.81 269.41,378.55 275.42,321.92 279.27,378.81 285.29,321.27 289.14,379 295.16,321.52 299.01,378.66 305.03,322.13 308.88,379.14 314.9,321.14 318.75,378.99 324.76,321.65 328.61,379.35 334.63,322.01 338.48,378.65 344.5,322.46 348.35,378.44 354.37,321.45 358.22,379.21 364.24,320.97 368.09,378.89 374.1,320.77 377.95,379.1 383.97,322.08 387.82,378.99 393.84,322.28 397.69,378.68 403.71,321.95 407.56,379.01 413.58,321.74 417.43,378.85 423.44,322.21 427.29,379.43 433.31,321.55 437.16,379.1 443.18,320.81 447.03,379.14 453.05,321.86 456.9,379.49 462.92,322.18 466.77,378.64 472.78,321.39 476.63,379.1 482.65,320.74 486.5,378.85 492.52,321 496.37,378.44 502.39,320.81 506.24,379.22 512.26,320.93 516.11,378.6 522.12,321.4 525.97,379.35 531.99,320.85 535.84,378.84 541.86,321.69 545.71,379.36 551.73,322.17 555.58,379.34 561.6,321.2 565.45,378.8 571.46,321.35 575.31,379.36 581.33,322.42 585.18,378.48" fill="none" stroke="#203864" stroke-width="2.5" stroke-linejoin="round" stroke-linecap="round" />
<polyline points="93.8,451.9 94.05,451.38 94.36,450.62 94.72,449.69 95.13,448.67 95.58,447.61 96.06,446.6 96.56,445.69 97.07,444.96 97.59,444.47 98.1,444.3 98.48,444.42 98.88,444.74 99.3,445.23 99.74,445.85 100.18,446.58 100.64,447.37 101.09,448.19 101.55,449.02 102,449.81 102.44,450.54 102.86,451.16 103.26,451.65 103.65,451.98 104,452.1 104.55,451.79 105.04,450.95 105.48,449.75 105.89,448.37 106.29,446.99 106.7,445.78 107.13,444.92 107.6,444.6 107.97,444.77 108.34,445.25 108.72,445.96 109.11,446.84 109.51,447.82 109.91,448.84 110.31,449.82 110.73,450.71 111.15,451.43 111.57,451.91 112,452.1 112.4,451.97 112.83,451.58 113.26,451 113.7,450.26 114.15,449.41 114.59,448.52 115.04,447.62 115.48,446.78 115.91,446.03 116.32,445.44 116.72,445.04 117.1,444.9 117.57,445.14 118,445.79 118.41,446.73 118.81,447.85 119.19,449.04 119.57,450.17 119.96,451.13 120.37,451.81 120.8,452.1 121.21,451.96 121.62,451.5 122.04,450.81 122.47,449.95 122.91,449.01 123.34,448.06 123.78,447.19 124.22,446.47 124.66,445.98 125.1,445.8 125.5,445.94 125.89,446.34 126.29,446.93 126.69,447.67 127.09,448.49 127.49,449.34 127.9,450.16 128.3,450.91 128.7,451.51 129.1,451.93 129.5,452.1 129.9,451.99 130.29,451.64 130.68,451.1 131.07,450.43 131.46,449.68 131.85,448.9 132.25,448.14 132.65,447.46 133.06,446.9 133.47,446.54 133.9,446.4 134.3,446.51 134.71,446.81 135.13,447.27 135.55,447.85 135.98,448.5 136.41,449.2 136.84,449.9 137.27,450.56 137.71,451.15 138.14,451.63 138.57,451.96 139,452.1 139.43,452.03 139.86,451.78 140.29,451.39 140.73,450.89 141.16,450.31 141.59,449.7 142.02,449.08 142.45,448.5 142.87,447.98 143.29,447.57 143.7,447.3 144.1,447.2 144.52,447.31 144.92,447.62 145.3,448.08 145.67,448.65 146.04,449.28 146.41,449.94 146.79,450.58 147.18,451.16 147.59,451.64 148.03,451.96 148.5,452.1 148.87,452.06 149.26,451.92 149.68,451.69 150.11,451.39 150.55,451.03 151,450.63 151.45,450.2 151.91,449.77 152.36,449.34 152.81,448.94 153.24,448.57 153.66,448.26 154.07,448.01 154.45,447.86 154.8,447.8 155.33,447.94 155.79,448.33 156.2,448.88 156.59,449.54 156.96,450.25 157.34,450.92 157.74,451.5 158.19,451.91 158.7,452.1 159.06,452.08 159.45,451.95 159.86,451.75 160.29,451.48 160.73,451.15 161.17,450.8 161.62,450.43 162.08,450.05 162.53,449.69 162.97,449.36 163.41,449.08 163.82,448.87 164.22,448.74 164.6,448.7 165.11,448.81 165.63,449.08 166.14,449.46 166.64,449.92 167.12,450.44 167.57,450.97 167.98,451.49 168.34,451.95 168.65,452.34 168.9,452.6" fill="none" stroke="#8eaadb" stroke-width="2.7" stroke-linejoin="round" stroke-linecap="round" />
<rect x="86.5" y="433.2" width="93.4" height="25.6" fill="none" stroke="#333" stroke-width="0.9" stroke-dasharray="2,1.6"/>
<polyline points="179.9,446.3 209.1,446.3 209.1,428.8 231,428.8" fill="none" stroke="#333" stroke-width="0.9" stroke-linejoin="round" stroke-linecap="round" stroke-dasharray="2,1.6" stroke-linecap="butt" stroke-linejoin="miter"/>
<path d="M236,428.8 L229.5,425.9 L229.5,431.7 z" fill="#000"/>
<line x1="92.3" y1="443.6" x2="66" y2="443.6" stroke="#203864" stroke-width="1.8" />
<path d="M59.8,443.6 L67.5,440.6 L66,443.6 L67.5,446.6 z" fill="#203864"/>
<line x1="593" y1="353.2" x2="617" y2="353.2" stroke="#203864" stroke-width="1.8" />
<path d="M624,353.2 L616.3,350.2 L617.8,353.2 L616.3,356.2 z" fill="#203864"/>
<path d="M157,457.4 L166.6,457.4 L166.6,461.36 L171.1,461.36 L161.8,467.3 L152.5,461.36 L157,461.36 z" fill="url(#gArD)"/>
<path d="M549.8,379.8 L559.4,379.8 L559.4,383.6 L563.9,383.6 L554.6,389.3 L545.3,383.6 L549.8,383.6 z" fill="url(#gArD)"/>
<text x="164.2" y="480.2" font-size="13" text-anchor="middle" fill="#000" font-weight="normal" >Pd-Au</text>
<line x1="146.2" y1="482.2" x2="182.2" y2="482.2" stroke="#000" stroke-width="0.9" />
<text x="163.9" y="496.1" font-size="13" text-anchor="middle" fill="#8eaadb" font-weight="normal" >w/o SAM</text>
<text x="555.7" y="407.4" font-size="13" text-anchor="middle" fill="#000" font-weight="normal" >Pd-SAM-Au</text>
<line x1="521.2" y1="408.2" x2="590.2" y2="408.2" stroke="#000" stroke-width="0.9" />
<text x="554.4" y="422.4" font-size="13" text-anchor="middle" fill="#28447c" font-weight="normal" >w SAM</text>
<text x="506.2" y="489.4" font-size="15" fill="#000">1000ppm H<tspan font-size="10.5" dy="3.5">2</tspan><tspan dy="-3.5">, RT</tspan></text>
<rect x="300.6" y="390.4" width="193.8" height="99.4" fill="#fff" stroke="#404040" stroke-width="1"/>
<path d="M319.2,394.5 L474.2,442.3 L474.2,479.3 L319.2,479.3 z" fill="#fff6e5"/>
<rect x="300.6" y="390.4" width="193.8" height="99.4" fill="none" stroke="#8c8c8c" stroke-width="1"/>
<line x1="300.6" y1="390.4" x2="300.6" y2="489.8" stroke="#5a5a5a" stroke-width="1" />
<line x1="300.6" y1="489.8" x2="494.4" y2="489.8" stroke="#5a5a5a" stroke-width="1" />
<line x1="297.4" y1="390.4" x2="300.6" y2="390.4" stroke="#404040" stroke-width="1" />
<text x="291.8" y="394" font-size="10" text-anchor="end" fill="#000" font-weight="normal" >3.1264</text>
<line x1="298.1" y1="406.97" x2="300.6" y2="406.97" stroke="#404040" stroke-width="1" />
<line x1="297.4" y1="423.53" x2="300.6" y2="423.53" stroke="#404040" stroke-width="1" />
<text x="291.8" y="427.13" font-size="10" text-anchor="end" fill="#000" font-weight="normal" >3.126</text>
<line x1="298.1" y1="440.1" x2="300.6" y2="440.1" stroke="#404040" stroke-width="1" />
<line x1="297.4" y1="456.67" x2="300.6" y2="456.67" stroke="#404040" stroke-width="1" />
<text x="291.8" y="460.27" font-size="10" text-anchor="end" fill="#000" font-weight="normal" >3.1256</text>
<line x1="298.1" y1="473.23" x2="300.6" y2="473.23" stroke="#404040" stroke-width="1" />
<line x1="297.4" y1="489.8" x2="300.6" y2="489.8" stroke="#404040" stroke-width="1" />
<text x="291.8" y="493.4" font-size="10" text-anchor="end" fill="#000" font-weight="normal" >3.1252</text>
<line x1="300.3" y1="489.8" x2="300.3" y2="492.8" stroke="#404040" stroke-width="1" />
<line x1="321.82" y1="489.8" x2="321.82" y2="492.8" stroke="#404040" stroke-width="1" />
<text x="319.82" y="503.7" font-size="10" text-anchor="middle" fill="#000" font-weight="normal" >0</text>
<line x1="343.35" y1="489.8" x2="343.35" y2="492.8" stroke="#404040" stroke-width="1" />
<line x1="364.88" y1="489.8" x2="364.88" y2="492.8" stroke="#404040" stroke-width="1" />
<text x="364.38" y="503.7" font-size="10" text-anchor="middle" fill="#000" font-weight="normal" >600</text>
<line x1="386.4" y1="489.8" x2="386.4" y2="492.8" stroke="#404040" stroke-width="1" />
<line x1="407.93" y1="489.8" x2="407.93" y2="492.8" stroke="#404040" stroke-width="1" />
<text x="407.43" y="503.7" font-size="10" text-anchor="middle" fill="#000" font-weight="normal" >1200</text>
<line x1="429.45" y1="489.8" x2="429.45" y2="492.8" stroke="#404040" stroke-width="1" />
<line x1="450.98" y1="489.8" x2="450.98" y2="492.8" stroke="#404040" stroke-width="1" />
<text x="450.48" y="503.7" font-size="10" text-anchor="middle" fill="#000" font-weight="normal" >1800</text>
<line x1="472.5" y1="489.8" x2="472.5" y2="492.8" stroke="#404040" stroke-width="1" />
<text transform="translate(253.4,441.5) rotate(-90)" font-size="13" text-anchor="middle" fill="#000">Resistance (Ω)</text>
<polyline points="321.15,468.56 321.96,466.2 323.51,460.19 323.83,453.47 325.32,446.89 327.23,437.24 327.54,427.49 328.71,418.28 330.01,413.69 330.95,410.87 331.24,411.76 331.84,417.48 332.71,422.81 333.93,429.8 335.03,433.68 335.45,437.12 336.52,441.79 337.34,448.52 339.04,454.24 339.41,462.39 340.47,466.58 342.1,468.3 342.56,462.18 343.06,453.98 344.4,446.19 346.05,437.47 345.91,428.96 347.52,418.83 348.5,414.46 349.43,415.53 351.01,416.03 351.05,417.38 351.9,422 353.44,427.39 354.16,432.47 355.78,440.65 356.81,446.31 357.71,451.44 357.76,455.72 358.89,461.37 359.24,469.33 360.66,472.56 362.42,469.63 363.32,466.53 364.34,460.12 364.31,455.26 365.22,450.87 366.74,446.95 368.05,436.3 368.71,426.84 368.77,419.03 370.82,416.75 371.53,418.44 371.65,424.98 372.83,432.19 374.53,441.57 374.59,456.26 376,466.23 376.28,471.26 378.19,470.45 378.07,464.55 380.25,456.71 380.4,448.99 381.09,440.56 383.18,435.28 383.34,430.34 384.32,424.13 385.7,420 385.66,420.97 386.54,424.63 387.51,429.17 388.32,436.52 389.63,442.24 390.92,449.97 391.59,457.74 392.61,464.16 393.57,467.55 394.42,468.6 394.68,466.99 395.82,460.99 397.52,454.73 397.9,447.51 399.18,441.76 399.48,436.39 400.64,431.98 402.35,430.27 403,429.49 404.39,427.73 404.95,428.34 405.72,432.45 406.53,438.35 407.58,446.54 408.81,451.44 410.04,454.21 410.45,460.07 411.81,462.77 411.77,468.28 412.63,471.38 413.55,473.12 415.51,470.34 415.55,464.21 417.15,456.98 418.39,454.2 418.41,450.81 419.59,445.93 421.38,442.27 421.19,437.51 422.64,435.2 423.09,434.74 424.79,434.72 425.45,437.4 425.57,439.79 427.4,444.22 427.65,449.87 429.5,454.1 429.47,456.53 430.36,461.21 431.68,462.91 432.88,468.37 434.38,470.28 434.31,473.86 435.91,472.57 436.17,467.68 437.9,464.34 437.91,461.82 439.58,458.43 439.73,455.69 440.67,451.46 442.19,445.24 443.3,442.59 443.84,438.4 445.07,437.99 445.46,438.68 446.3,441.84 447.53,446.74 449.04,452.23 449.6,457.29 450.29,462.58 451.1,467.04 452.79,470.8 453.03,471.1 454.91,469.99 455.64,470.11 456.11,469.25 456.91,465.3 458.29,462.89 458.78,459.93 460.21,458.03 460.76,455.74 461.27,452.71 462.29,450.88 463.5,446.52 464.14,446.62 466.02,446.27 466.35,446.54 467.26,449.34 467.9,451.98 468.99,456.48 471.08,460.75 471.17,468.11 472.2,471.76" fill="none" stroke="#8eaadb" stroke-width="2.9" stroke-linejoin="round" stroke-linecap="round" />
<path d="M328.1,392.8 L328.1,402.5" stroke="#c00000" stroke-width="1.1"/><path d="M328.1,407 L325.6,401 L330.6,401 z" fill="#c00000"/>
<text x="333.3" y="401.6" font-size="10" font-weight="bold" fill="#c00000">H<tspan font-size="7" dy="2.5">2</tspan><tspan dy="-2.5"> off</tspan></text>
<path d="M320,484.5 L320,475" stroke="#c00000" stroke-width="1.1"/><path d="M320,470.8 L317.5,476.8 L322.5,476.8 z" fill="#c00000"/>
<text x="325.3" y="486.2" font-size="10" font-weight="bold" fill="#c00000">H<tspan font-size="7" dy="2.5">2</tspan><tspan dy="-2.5"> in</tspan></text>
<text transform="translate(-0.9,577.9) scale(0.92,1)" font-size="18" font-weight="bold">e</text>
<rect x="59.3" y="581.6" width="566" height="70.4" fill="#e9eef8"/>
<rect x="59.3" y="707.1" width="66" height="52.6" fill="#fff6e5"/>
<line x1="59.3" y1="566.6" x2="625.3" y2="566.6" stroke="#808080" stroke-width="1" />
<line x1="625.3" y1="566.6" x2="625.3" y2="780.6" stroke="#959595" stroke-width="1" />
<line x1="59.3" y1="780.6" x2="625.3" y2="780.6" stroke="#404040" stroke-width="1" />
<line x1="59.3" y1="566.6" x2="59.3" y2="780.6" stroke="#a9bde6" stroke-width="1.8" />
<line x1="56.3" y1="566.6" x2="59.3" y2="566.6" stroke="#a9bde6" stroke-width="1" />
<text x="49.2" y="570.5" font-size="11" text-anchor="end" fill="#4a74c4" font-weight="normal" >4.55</text>
<line x1="57.5" y1="584.43" x2="59.3" y2="584.43" stroke="#a9bde6" stroke-width="1" />
<line x1="56.3" y1="602.27" x2="59.3" y2="602.27" stroke="#a9bde6" stroke-width="1" />
<text x="49.2" y="606.17" font-size="11" text-anchor="end" fill="#4a74c4" font-weight="normal" >4.35</text>
<line x1="57.5" y1="620.1" x2="59.3" y2="620.1" stroke="#a9bde6" stroke-width="1" />
<line x1="56.3" y1="637.93" x2="59.3" y2="637.93" stroke="#a9bde6" stroke-width="1" />
<text x="49.2" y="641.83" font-size="11" text-anchor="end" fill="#4a74c4" font-weight="normal" >4.15</text>
<line x1="57.5" y1="655.77" x2="59.3" y2="655.77" stroke="#a9bde6" stroke-width="1" />
<line x1="56.3" y1="673.6" x2="59.3" y2="673.6" stroke="#a9bde6" stroke-width="1" />
<text x="49.2" y="677.5" font-size="11" text-anchor="end" fill="#4a74c4" font-weight="normal" >3.95</text>
<line x1="57.5" y1="691.43" x2="59.3" y2="691.43" stroke="#a9bde6" stroke-width="1" />
<line x1="56.3" y1="709.27" x2="59.3" y2="709.27" stroke="#a9bde6" stroke-width="1" />
<text x="49.2" y="713.17" font-size="11" text-anchor="end" fill="#4a74c4" font-weight="normal" >3.75</text>
<line x1="57.5" y1="727.1" x2="59.3" y2="727.1" stroke="#a9bde6" stroke-width="1" />
<line x1="56.3" y1="744.93" x2="59.3" y2="744.93" stroke="#a9bde6" stroke-width="1" />
<text x="49.2" y="748.83" font-size="11" text-anchor="end" fill="#4a74c4" font-weight="normal" >3.55</text>
<line x1="57.5" y1="762.77" x2="59.3" y2="762.77" stroke="#a9bde6" stroke-width="1" />
<line x1="56.3" y1="780.6" x2="59.3" y2="780.6" stroke="#a9bde6" stroke-width="1" />
<text x="49.2" y="784.5" font-size="11" text-anchor="end" fill="#4a74c4" font-weight="normal" >3.35</text>
<line x1="625.3" y1="566.6" x2="629.1" y2="566.6" stroke="#404040" stroke-width="1" />
<text x="634.1" y="570.5" font-size="11" text-anchor="start" fill="#28447c" font-weight="normal" >4.12</text>
<line x1="625.3" y1="602.27" x2="629.1" y2="602.27" stroke="#404040" stroke-width="1" />
<text x="634.1" y="606.17" font-size="11" text-anchor="start" fill="#28447c" font-weight="normal" >4.02</text>
<line x1="625.3" y1="637.93" x2="629.1" y2="637.93" stroke="#404040" stroke-width="1" />
<text x="634.1" y="641.83" font-size="11" text-anchor="start" fill="#28447c" font-weight="normal" >3.92</text>
<line x1="625.3" y1="673.6" x2="629.1" y2="673.6" stroke="#404040" stroke-width="1" />
<text x="634.1" y="677.5" font-size="11" text-anchor="start" fill="#28447c" font-weight="normal" >3.82</text>
<line x1="625.3" y1="709.27" x2="629.1" y2="709.27" stroke="#404040" stroke-width="1" />
<text x="634.1" y="713.17" font-size="11" text-anchor="start" fill="#28447c" font-weight="normal" >3.72</text>
<line x1="625.3" y1="744.93" x2="629.1" y2="744.93" stroke="#404040" stroke-width="1" />
<text x="634.1" y="748.83" font-size="11" text-anchor="start" fill="#28447c" font-weight="normal" >3.62</text>
<line x1="625.3" y1="780.6" x2="629.1" y2="780.6" stroke="#404040" stroke-width="1" />
<text x="634.1" y="784.5" font-size="11" text-anchor="start" fill="#28447c" font-weight="normal" >3.52</text>
<line x1="59.21" y1="780.6" x2="59.21" y2="783.6" stroke="#404040" stroke-width="1" />
<line x1="87.5" y1="780.6" x2="87.5" y2="783.6" stroke="#404040" stroke-width="1" />
<text x="87.5" y="794.8" font-size="11" text-anchor="middle" fill="#000" font-weight="normal" >0</text>
<line x1="115.79" y1="780.6" x2="115.79" y2="783.6" stroke="#404040" stroke-width="1" />
<line x1="144.07" y1="780.6" x2="144.07" y2="783.6" stroke="#404040" stroke-width="1" />
<text x="144.07" y="794.8" font-size="11" text-anchor="middle" fill="#000" font-weight="normal" >3000</text>
<line x1="172.36" y1="780.6" x2="172.36" y2="783.6" stroke="#404040" stroke-width="1" />
<line x1="200.64" y1="780.6" x2="200.64" y2="783.6" stroke="#404040" stroke-width="1" />
<text x="200.64" y="794.8" font-size="11" text-anchor="middle" fill="#000" font-weight="normal" >6000</text>
<line x1="228.93" y1="780.6" x2="228.93" y2="783.6" stroke="#404040" stroke-width="1" />
<line x1="257.21" y1="780.6" x2="257.21" y2="783.6" stroke="#404040" stroke-width="1" />
<text x="257.21" y="794.8" font-size="11" text-anchor="middle" fill="#000" font-weight="normal" >9000</text>
<line x1="285.5" y1="780.6" x2="285.5" y2="783.6" stroke="#404040" stroke-width="1" />
<line x1="313.78" y1="780.6" x2="313.78" y2="783.6" stroke="#404040" stroke-width="1" />
<text x="313.78" y="794.8" font-size="11" text-anchor="middle" fill="#000" font-weight="normal" >12000</text>
<line x1="342.07" y1="780.6" x2="342.07" y2="783.6" stroke="#404040" stroke-width="1" />
<line x1="370.35" y1="780.6" x2="370.35" y2="783.6" stroke="#404040" stroke-width="1" />
<text x="370.35" y="794.8" font-size="11" text-anchor="middle" fill="#000" font-weight="normal" >15000</text>
<line x1="398.64" y1="780.6" x2="398.64" y2="783.6" stroke="#404040" stroke-width="1" />
<line x1="426.93" y1="780.6" x2="426.93" y2="783.6" stroke="#404040" stroke-width="1" />
<text x="426.93" y="794.8" font-size="11" text-anchor="middle" fill="#000" font-weight="normal" >18000</text>
<line x1="455.21" y1="780.6" x2="455.21" y2="783.6" stroke="#404040" stroke-width="1" />
<line x1="483.5" y1="780.6" x2="483.5" y2="783.6" stroke="#404040" stroke-width="1" />
<text x="483.5" y="794.8" font-size="11" text-anchor="middle" fill="#000" font-weight="normal" >21000</text>
<line x1="511.78" y1="780.6" x2="511.78" y2="783.6" stroke="#404040" stroke-width="1" />
<line x1="540.07" y1="780.6" x2="540.07" y2="783.6" stroke="#404040" stroke-width="1" />
<text x="540.07" y="794.8" font-size="11" text-anchor="middle" fill="#000" font-weight="normal" >24000</text>
<line x1="568.35" y1="780.6" x2="568.35" y2="783.6" stroke="#404040" stroke-width="1" />
<line x1="596.64" y1="780.6" x2="596.64" y2="783.6" stroke="#404040" stroke-width="1" />
<text x="596.64" y="794.8" font-size="11" text-anchor="middle" fill="#000" font-weight="normal" >27000</text>
<line x1="624.92" y1="780.6" x2="624.92" y2="783.6" stroke="#404040" stroke-width="1" />
<text x="343" y="812" font-size="13" text-anchor="middle" fill="#000" font-weight="normal" >Time (s)</text>
<text transform="translate(17.3,676.8) rotate(-90)" font-size="13" text-anchor="middle" fill="#4a74c4">Resistance (Ω)</text>
<text transform="translate(673,673.2) rotate(-90)" font-size="13" text-anchor="middle" fill="#28447c">Resistance (Ω)</text>
<polyline points="87.2,643.5 89.8,583.9 91,598.83 91.8,600.03 92.3,605.41 95.2,635.27 97.4,643.63 99.85,586.76 101.05,601.3 101.85,602.47 102.35,607.7 105.25,636.8 107.45,644.95 109.91,587.37 111.11,601.89 111.91,603.05 112.41,608.27 115.31,637.3 117.51,645.42 119.97,587.86 121.17,602.26 121.97,603.41 122.47,608.6 125.37,637.39 127.57,645.45 130.04,588.58 131.24,602.92 132.04,604.07 132.54,609.23 135.44,637.91 137.64,645.95 140.11,589.06 141.31,603.22 142.11,604.35 142.61,609.45 145.51,637.76 147.71,645.69 150.19,589.86 151.39,603.95 152.19,605.08 152.69,610.15 155.59,638.33 157.79,646.23 160.28,590.65 161.48,604.7 162.28,605.83 162.78,610.89 165.68,638.99 167.88,646.86 170.37,591.27 171.57,605.26 172.37,606.38 172.87,611.42 175.77,639.41 177.97,647.25 180.46,591.62 181.66,605.65 182.46,606.77 182.96,611.83 185.86,639.9 188.06,647.76 190.56,591.6 191.76,605.49 192.56,606.6 193.06,611.6 195.96,639.39 198.16,647.17 200.66,592.66 201.86,606.27 202.66,607.36 203.16,612.26 206.06,639.48 208.26,647.1 210.77,592.69 211.97,606.51 212.77,607.61 213.27,612.59 216.17,640.22 218.37,647.96 220.89,592.19 222.09,606.24 222.89,607.37 223.39,612.42 226.29,640.52 228.49,648.39 231.01,593.52 232.21,607.21 233.01,608.3 233.51,613.23 236.41,640.59 238.61,648.25 241.13,593.63 242.33,607.39 243.13,608.49 243.63,613.44 246.53,640.96 248.73,648.66 251.26,593.21 252.46,607.01 253.26,608.11 253.76,613.08 256.66,640.68 258.86,648.4 261.4,593.93 262.6,607.69 263.4,608.79 263.9,613.75 266.8,641.27 269,648.98 271.54,594.56 272.74,608.2 273.54,609.29 274.04,614.2 276.94,641.47 279.14,649.11 281.68,594.56 282.88,608.26 283.68,609.35 284.18,614.28 287.08,641.66 289.28,649.33 291.84,594.94 293.04,608.5 293.84,609.59 294.34,614.47 297.24,641.59 299.44,649.18 301.99,594.65 303.19,608.08 303.99,609.16 304.49,613.99 307.39,640.86 309.59,648.38 312.15,594.78 313.35,608.33 314.15,609.41 314.65,614.29 317.55,641.38 319.75,648.97 322.32,594.99 323.52,608.68 324.32,609.77 324.82,614.7 327.72,642.08 329.92,649.75 332.49,595.77 333.69,609.22 334.49,610.3 334.99,615.14 337.89,642.04 340.09,649.58 342.67,596.08 343.87,609.5 344.67,610.58 345.17,615.41 348.07,642.25 350.27,649.77 352.85,596.14 354.05,609.34 354.85,610.4 355.35,615.15 358.25,641.54 360.45,648.93 363.04,596.73 364.24,610.07 365.04,611.14 365.54,615.94 368.44,642.62 370.64,650.09 373.23,596.6 374.43,609.92 375.23,610.99 375.73,615.79 378.63,642.43 380.83,649.9 383.43,597 384.63,610.09 385.43,611.13 385.93,615.84 388.83,642.02 391.03,649.35 393.63,597.3 394.83,610.41 395.63,611.45 396.13,616.17 399.03,642.38 401.23,649.71 403.84,596.72 405.04,610 405.84,611.06 406.34,615.84 409.24,642.4 411.44,649.83 414.05,597.71 415.25,610.74 416.05,611.78 416.55,616.48 419.45,642.55 421.65,649.85 424.27,597.92 425.47,611.2 426.27,612.26 426.77,617.04 429.67,643.6 431.87,651.03 434.49,597.82 435.69,610.94 436.49,611.99 436.99,616.71 439.89,642.95 442.09,650.3 444.72,598 445.92,611.2 446.72,612.26 447.22,617.01 450.12,643.42 452.32,650.82 454.96,598.53 456.16,611.61 456.96,612.65 457.46,617.36 460.36,643.5 462.56,650.82 465.2,598.57 466.4,611.47 467.2,612.5 467.7,617.15 470.6,642.94 472.8,650.16 475.44,598.17 476.64,611.25 477.44,612.3 477.94,617.01 480.84,643.17 483.04,650.5 485.69,599.07 486.89,611.97 487.69,613 488.19,617.64 491.09,643.44 493.29,650.66 495.94,599.04 497.14,611.86 497.94,612.89 498.44,617.51 501.34,643.16 503.54,650.35 506.2,598.61 507.4,611.65 508.2,612.7 508.7,617.4 511.6,643.49 513.8,650.79 516.47,599.52 517.67,612.51 518.47,613.55 518.97,618.22 521.87,644.2 524.07,651.48 526.74,599.7 527.94,612.52 528.74,613.55 529.24,618.17 532.14,643.82 534.34,651 537.01,599.68 538.21,612.59 539.01,613.63 539.51,618.28 542.41,644.1 544.61,651.33 547.29,599.79 548.49,612.58 549.29,613.6 549.79,618.2 552.69,643.77 554.89,650.93 557.58,600.47 558.78,613.14 559.58,614.15 560.08,618.71 562.98,644.04 565.18,651.13 567.87,600.74 569.07,613.62 569.87,614.65 570.37,619.28 573.27,645.04 575.47,652.25 578.17,599.76 579.37,612.73 580.17,613.77 580.67,618.44 583.57,644.39 585.77,651.66 588.47,600.88 589.67,613.78 590.47,614.81 590.97,619.45 593.77,645.24 596.4,650.5" fill="none" stroke="#203864" stroke-width="2.6" stroke-linejoin="round" stroke-linecap="round" />
<polyline points="87.2,750.3 87.32,749.95 87.45,749.51 87.61,749 87.79,748.43 87.99,747.8 88.2,747.14 88.42,746.44 88.64,745.72 88.88,744.99 89.12,744.25 89.36,743.53 89.6,742.83 89.83,742.15 90.06,741.51 90.29,740.93 90.5,740.4 90.71,739.92 90.93,739.47 91.15,739.05 91.37,738.64 91.6,738.26 91.83,737.89 92.05,737.54 92.28,737.2 92.49,736.87 92.71,736.54 92.92,736.21 93.12,735.88 93.31,735.55 93.48,735.21 93.65,734.86 93.8,734.5 94.13,733.62 94.37,732.85 94.55,732.08 94.71,731.2 94.88,730.08 95.1,728.6 95.3,727.21 95.52,725.6 95.76,723.83 96,721.94 96.23,719.98 96.45,718.01 96.64,716.06 96.8,714.2 97.13,706.91 97.3,699.7 97.53,691.89 97.7,685.9" fill="none" stroke="#8eaadb" stroke-width="2.3" stroke-linejoin="round" stroke-linecap="round" />
<rect x="83" y="709.4" width="28.9" height="46.1" fill="none" stroke="#333" stroke-width="0.9" stroke-dasharray="2,1.6"/>
<polyline points="96.9,709.4 96.9,697.5 235,697.5" fill="none" stroke="#333" stroke-width="0.9" stroke-linejoin="round" stroke-linecap="round" stroke-dasharray="2,1.6" stroke-linecap="butt" stroke-linejoin="miter"/>
<path d="M241.3,697.5 L234.8,694.6 L234.8,700.4 z" fill="#000"/>
<line x1="88" y1="721.1" x2="69" y2="721.1" stroke="#203864" stroke-width="1.8" />
<path d="M62.3,721.1 L70,718.1 L68.5,721.1 L70,724.1 z" fill="#203864"/>
<line x1="598.2" y1="604.3" x2="617" y2="604.3" stroke="#203864" stroke-width="1.8" />
<path d="M623.8,604.3 L616.1,601.3 L617.6,604.3 L616.1,607.3 z" fill="#203864"/>
<path d="M121.5,733.6 L126.14,733.6 L126.14,730 L131.8,739 L126.14,748 L126.14,744.4 L121.5,744.4 z" fill="url(#gArR)"/>
<path d="M550.9,652.8 L560.5,652.8 L560.5,656.64 L565,656.64 L555.7,662.4 L546.4,656.64 L550.9,656.64 z" fill="url(#gArD)"/>
<text x="168" y="735" font-size="13" text-anchor="middle" fill="#000" font-weight="normal" >Pd-Au</text>
<line x1="150" y1="737.2" x2="186" y2="737.2" stroke="#000" stroke-width="0.9" />
<text x="168.2" y="750" font-size="13" text-anchor="middle" fill="#8eaadb" font-weight="normal" >w/o SAM</text>
<text x="556" y="681.4" font-size="13" text-anchor="middle" fill="#000" font-weight="normal" >Pd-SAM-Au</text>
<line x1="521.6" y1="683.2" x2="590.4" y2="683.2" stroke="#000" stroke-width="0.9" />
<text x="556.2" y="697.2" font-size="13" text-anchor="middle" fill="#28447c" font-weight="normal" >w SAM</text>
<text x="525.8" y="760.6" font-size="15" fill="#000">4% H<tspan font-size="10.5" dy="3.5">2</tspan><tspan dy="-3.5">, RT</tspan></text>
<rect x="301" y="664.9" width="201.5" height="94.7" fill="#fff" stroke="#404040" stroke-width="1"/>
<path d="M327,713.4 L471.2,669.3 L471.2,747.9 L327,747.9 z" fill="#fff6e5"/>
<rect x="301" y="664.9" width="201.5" height="94.7" fill="none" stroke="#8c8c8c" stroke-width="1"/>
<line x1="301" y1="664.9" x2="301" y2="759.6" stroke="#5a5a5a" stroke-width="1" />
<line x1="301" y1="759.6" x2="502.5" y2="759.6" stroke="#5a5a5a" stroke-width="1" />
<line x1="297.8" y1="664.9" x2="301" y2="664.9" stroke="#404040" stroke-width="1" />
<text x="292.1" y="667.9" font-size="10" text-anchor="end" fill="#000" font-weight="normal" >4.25</text>
<line x1="298.5" y1="688.58" x2="301" y2="688.58" stroke="#404040" stroke-width="1" />
<line x1="297.8" y1="712.25" x2="301" y2="712.25" stroke="#404040" stroke-width="1" />
<text x="292.1" y="715.25" font-size="10" text-anchor="end" fill="#000" font-weight="normal" >3.75</text>
<line x1="298.5" y1="735.92" x2="301" y2="735.92" stroke="#404040" stroke-width="1" />
<line x1="297.8" y1="759.6" x2="301" y2="759.6" stroke="#404040" stroke-width="1" />
<text x="292.1" y="762.6" font-size="10" text-anchor="end" fill="#000" font-weight="normal" >3.25</text>
<line x1="302.15" y1="759.6" x2="302.15" y2="762.6" stroke="#404040" stroke-width="1" />
<line x1="327" y1="759.6" x2="327" y2="762.6" stroke="#404040" stroke-width="1" />
<text x="327" y="773.2" font-size="10" text-anchor="middle" fill="#000" font-weight="normal" >0</text>
<line x1="351.85" y1="759.6" x2="351.85" y2="762.6" stroke="#404040" stroke-width="1" />
<line x1="376.7" y1="759.6" x2="376.7" y2="762.6" stroke="#404040" stroke-width="1" />
<text x="376.7" y="773.2" font-size="10" text-anchor="middle" fill="#000" font-weight="normal" >200</text>
<line x1="401.55" y1="759.6" x2="401.55" y2="762.6" stroke="#404040" stroke-width="1" />
<line x1="426.4" y1="759.6" x2="426.4" y2="762.6" stroke="#404040" stroke-width="1" />
<text x="426.4" y="773.2" font-size="10" text-anchor="middle" fill="#000" font-weight="normal" >400</text>
<line x1="451.25" y1="759.6" x2="451.25" y2="762.6" stroke="#404040" stroke-width="1" />
<line x1="476.1" y1="759.6" x2="476.1" y2="762.6" stroke="#404040" stroke-width="1" />
<text x="476.1" y="773.2" font-size="10" text-anchor="middle" fill="#000" font-weight="normal" >600</text>
<line x1="500.95" y1="759.6" x2="500.95" y2="762.6" stroke="#404040" stroke-width="1" />
<text transform="translate(264,714.5) rotate(-90)" font-size="13" text-anchor="middle" fill="#000">Resistance (Ω)</text>
<polyline points="327,734.2 330,733.6 338.8,731 351.9,728.6 380,727 407.7,725.5 408.8,723.8 420,722.5 435.1,720.5 437.3,719 449.3,715 451.5,711.8 453.1,706.3 461.4,703 461.4,699.7 465,700 471.2,700.8" fill="none" stroke="#8eaadb" stroke-width="2.6" stroke-linejoin="round" stroke-linecap="round" />
<path d="M362.3,707.7 L362.3,720.5" stroke="#c00000" stroke-width="1.1"/><path d="M362.3,725 L359.8,719 L364.8,719 z" fill="#c00000"/>
<text x="364.2" y="701.8" font-size="10" font-weight="bold" fill="#c00000" text-anchor="middle">H<tspan font-size="7" dy="2.5">2</tspan><tspan dy="-2.5"> off</tspan></text>
<path d="M327,754.4 L327,742" stroke="#c00000" stroke-width="1.1"/><path d="M327,737.3 L324.5,743.3 L329.5,743.3 z" fill="#c00000"/>
<text x="330.4" y="755.4" font-size="10" font-weight="bold" fill="#c00000">H<tspan font-size="7" dy="2.5">2</tspan><tspan dy="-2.5"> in</tspan></text>
</svg></body></html>
